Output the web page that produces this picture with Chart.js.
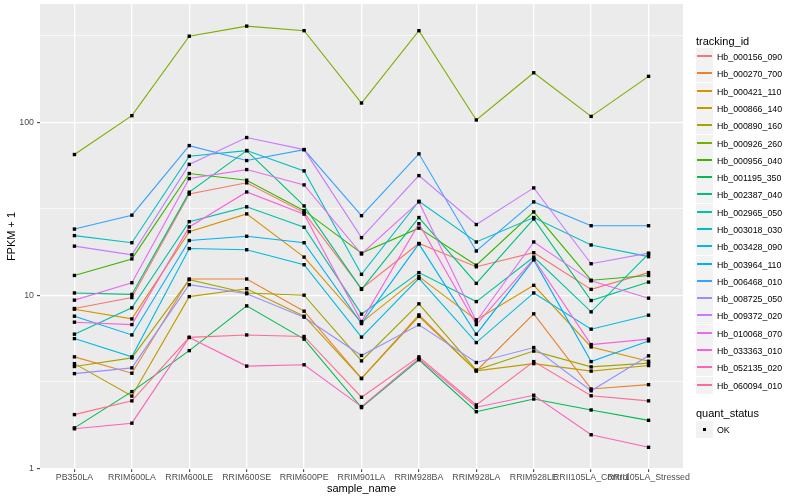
<!DOCTYPE html>
<html>
<head>
<meta charset="utf-8">
<script src="https://cdn.jsdelivr.net/npm/chart.js@4.4.1/dist/chart.umd.min.js"></script>
<style>
	html, body { margin: 0; padding: 0; background: #fff; }
	#wrap { position: relative; width: 800px; height: 500px; font-family: "Liberation Sans", Arial, sans-serif; }
	#chart { position: absolute; left: 0; top: 0; }
	.lg-title { position: absolute; left: 696px; font-size: 11px; line-height: 12px; color: #000; white-space: nowrap; }
	.lg-key { position: absolute; left: 696px; width: 17px; height: 17px; background: #F2F2F2; }
	.lg-line { position: absolute; left: 1px; right: 1px; top: 7px; height: 2px; }
	.lg-dot { position: absolute; left: 7px; top: 7px; width: 3px; height: 3px; background: #000; }
	.lg-text { position: absolute; left: 717px; font-size: 8.8px; line-height: 10px; color: #000; white-space: nowrap; }
</style>
</head>
<body>
<div id="wrap">
	<canvas id="chart" width="800" height="500"></canvas>
	<div id="legend"></div>
</div>
<script>
(function () {
	'use strict';

	var FONT = '"Liberation Sans", Arial, sans-serif';

	// --- Data (FPKM + 1) ---
	var samples = ['PB350LA', 'RRIM600LA', 'RRIM600LE', 'RRIM600SE', 'RRIM600PE', 'RRIM901LA',
		'RRIM928BA', 'RRIM928LA', 'RRIM928LE', 'RRII105LA_Control', 'RRII105LA_Stressed'];

	var trackingIds = ['Hb_000156_090', 'Hb_000270_700', 'Hb_000421_110', 'Hb_000866_140', 'Hb_000890_160',
		'Hb_000926_260', 'Hb_000956_040', 'Hb_001195_350', 'Hb_002387_040', 'Hb_002965_050',
		'Hb_003018_030', 'Hb_003428_090', 'Hb_003964_110', 'Hb_006468_010', 'Hb_008725_050',
		'Hb_009372_020', 'Hb_010068_070', 'Hb_033363_010', 'Hb_052135_020', 'Hb_060094_010'];

	var Hb_000156_090 = [8.37, 9.68, 38.4, 44.6, 30.0, 10.9, 19.9, 14.6, 17.6, 10.8, 13.5];
	var Hb_000270_700 = [4.40, 3.54, 12.4, 12.4, 8.08, 3.30, 7.69, 3.65, 7.80, 2.87, 3.04];
	var Hb_000421_110 = [8.30, 7.29, 23.3, 29.5, 16.6, 6.94, 12.8, 7.20, 11.4, 5.02, 4.15];
	var Hb_000866_140 = [4.02, 2.61, 9.81, 10.9, 7.56, 3.30, 7.54, 3.65, 4.02, 3.64, 3.92];
	var Hb_000890_160 = [3.87, 4.34, 12.3, 10.3, 10.0, 4.17, 8.91, 3.69, 4.75, 3.85, 4.05];
	var Hb_000926_260 = [65.0, 109, 314, 359, 338, 129, 338, 103, 193, 108, 184];
	var Hb_000956_040 = [13.0, 16.2, 50.5, 46.2, 30.8, 17.5, 24.4, 14.9, 30.3, 12.2, 13.0];
	var Hb_001195_350 = [1.71, 2.77, 4.78, 8.67, 5.57, 2.24, 4.23, 2.12, 2.51, 2.17, 1.89];
	var Hb_002387_040 = [10.3, 10.1, 39.4, 68.5, 32.8, 10.8, 28.1, 11.7, 27.6, 9.31, 11.9];
	var Hb_002965_050 = [5.95, 8.45, 26.6, 32.4, 24.7, 7.77, 13.5, 9.18, 16.6, 8.01, 17.3];
	var Hb_003018_030 = [22.1, 20.1, 63.6, 68.5, 52.3, 13.2, 34.9, 20.3, 28.1, 19.5, 16.7];
	var Hb_003428_090 = [5.61, 4.40, 18.6, 18.3, 15.0, 5.72, 12.5, 5.32, 10.3, 6.36, 7.66];
	var Hb_003964_110 = [7.56, 5.89, 20.7, 21.9, 20.1, 6.85, 19.8, 5.95, 16.0, 4.13, 5.44];
	var Hb_006468_010 = [24.1, 29.0, 73.2, 60.0, 69.4, 28.8, 65.6, 18.0, 34.6, 25.2, 25.2];
	var Hb_008725_050 = [3.52, 3.80, 11.5, 10.2, 7.46, 4.48, 6.74, 4.08, 4.98, 2.80, 4.46];
	var Hb_009372_020 = [19.2, 17.1, 57.0, 81.5, 69.4, 21.5, 49.1, 25.6, 41.7, 15.2, 17.5];
	var Hb_010068_070 = [9.36, 11.8, 47.2, 53.2, 43.4, 17.3, 34.6, 7.07, 20.3, 12.1, 9.61];
	var Hb_033363_010 = [6.98, 6.76, 24.8, 39.5, 29.4, 7.04, 25.9, 6.76, 16.2, 5.18, 5.57];
	var Hb_052135_020 = [1.69, 1.82, 5.70, 3.89, 3.96, 2.27, 4.31, 2.25, 2.64, 1.56, 1.32];
	var Hb_060094_010 = [2.04, 2.45, 5.70, 5.89, 5.77, 2.57, 4.40, 2.32, 4.13, 2.62, 2.45];

	var series = [Hb_000156_090, Hb_000270_700, Hb_000421_110, Hb_000866_140, Hb_000890_160,
		Hb_000926_260, Hb_000956_040, Hb_001195_350, Hb_002387_040, Hb_002965_050,
		Hb_003018_030, Hb_003428_090, Hb_003964_110, Hb_006468_010, Hb_008725_050,
		Hb_009372_020, Hb_010068_070, Hb_033363_010, Hb_052135_020, Hb_060094_010];

	var yMajorTicks = [1, 10, 100];
	var yMinorTicks = [3.1623, 31.623, 316.23];
	var quantStatus = ['OK'];

	// ggplot default hue palette, 20 levels.
	var COLORS = ['#F8766D', '#EA8331', '#D89000', '#C09B00', '#A3A500', '#7CAE00', '#39B600', '#00BB4E',
		'#00BF7D', '#00C1A3', '#00BFC4', '#00BAE0', '#00B0F6', '#35A2FF', '#9590FF', '#C77CFF',
		'#E76BF3', '#FA62DB', '#FF62BC', '#FF6C91'];

	function isMajor(v) {
		return yMajorTicks.some(function (m) { return Math.abs(m - v) < 1e-6 * m; });
	}

	// --- Grey panel behind the grid ---
	var panelBg = {
		id: 'panelBg',
		beforeDraw: function (chart) {
			var a = chart.chartArea, ctx = chart.ctx;
			ctx.save();
			ctx.fillStyle = '#EBEBEB';
			ctx.fillRect(a.left, a.top, a.right - a.left, a.bottom - a.top);
			ctx.restore();
		}
	};

	// --- Datasets: one line per gene, then all points on top ---
	var datasets = series.map(function (vals, i) {
		return {
			label: trackingIds[i],
			data: vals.map(function (v, j) { return { x: j, y: v }; }),
			borderColor: COLORS[i],
			backgroundColor: COLORS[i],
			borderWidth: 1.1,
			pointRadius: 0,
			fill: false,
			tension: 0,
			order: series.length - i
		};
	});

	var pts = [];
	series.forEach(function (vals) {
		vals.forEach(function (v, j) { pts.push({ x: j, y: v }); });
	});
	datasets.push({
		type: 'scatter',
		label: quantStatus[0],
		data: pts,
		pointStyle: 'rect',
		pointRadius: 2.4,
		backgroundColor: '#000',
		borderWidth: 0,
		showLine: false,
		order: 0
	});

	new Chart(document.getElementById('chart'), {
		type: 'line',
		data: { datasets: datasets },
		plugins: [panelBg],
		options: {
			responsive: false,
			animation: false,
			events: [],
			layout: { padding: { left: 0, top: 4, right: 117, bottom: 0 } },
			plugins: { legend: { display: false }, tooltip: { enabled: false } },
			scales: {
				x: {
					type: 'linear',
					min: -0.6,
					max: 10.6,
					afterBuildTicks: function (s) {
						s.ticks = samples.map(function (_, i) { return { value: i }; });
					},
					afterFit: function (s) { s.height = 31; s.paddingLeft = 0; s.paddingRight = 0; },
					ticks: {
						autoSkip: false, maxRotation: 0, minRotation: 0, padding: 0,
						color: '#4D4D4D', font: { family: FONT, size: 8.8 },
						callback: function (v) { return samples[v]; }
					},
					grid: { color: '#FFFFFF', lineWidth: 1.3, tickColor: '#333333', tickLength: 3, tickWidth: 1 },
					border: { display: false },
					title: { display: true, text: 'sample_name', color: '#000', font: { family: FONT, size: 11 }, padding: 4 }
				},
				y: {
					type: 'logarithmic',
					min: 0.989,
					max: 482,
					afterBuildTicks: function (s) {
						s.ticks = yMajorTicks.concat(yMinorTicks)
							.sort(function (a, b) { return a - b; })
							.map(function (v) { return { value: v }; });
					},
					afterFit: function (s) { s.width = 40; s.paddingTop = 0; s.paddingBottom = 0; },
					ticks: {
						padding: 3, color: '#4D4D4D', font: { family: FONT, size: 8.8 },
						callback: function (v) { return isMajor(v) ? String(v) : ''; }
					},
					grid: {
						color: '#FFFFFF',
						lineWidth: function (c) { return c.tick && isMajor(c.tick.value) ? 1.3 : 0.65; },
						tickColor: function (c) { return c.tick && isMajor(c.tick.value) ? '#333333' : 'rgba(0,0,0,0)'; },
						tickLength: 3,
						tickWidth: 1
					},
					border: { display: false },
					title: { display: true, text: 'FPKM + 1', color: '#000', font: { family: FONT, size: 11 }, padding: 5 }
				}
			}
		}
	});

	// --- HTML legend (tracking_id + quant_status) ---
	var lg = document.getElementById('legend');
	var html = '<div class="lg-title" style="top:35px">tracking_id</div>';
	var step = 17.28, top0 = 48.2;
	trackingIds.forEach(function (id, i) {
		var t = Math.round(top0 + i * step);
		html += '<div class="lg-key" style="top:' + t + 'px"><div class="lg-line" style="background:' + COLORS[i] + '"></div></div>';
		html += '<div class="lg-text" style="top:' + (t + 3.5) + 'px">' + id + '</div>';
	});
	html += '<div class="lg-title" style="top:407px">quant_status</div>';
	html += '<div class="lg-key" style="top:421px"><div class="lg-dot"></div></div>';
	html += '<div class="lg-text" style="top:424.5px">' + quantStatus[0] + '</div>';
	lg.innerHTML = html;
})();
</script>
</body>
</html>
